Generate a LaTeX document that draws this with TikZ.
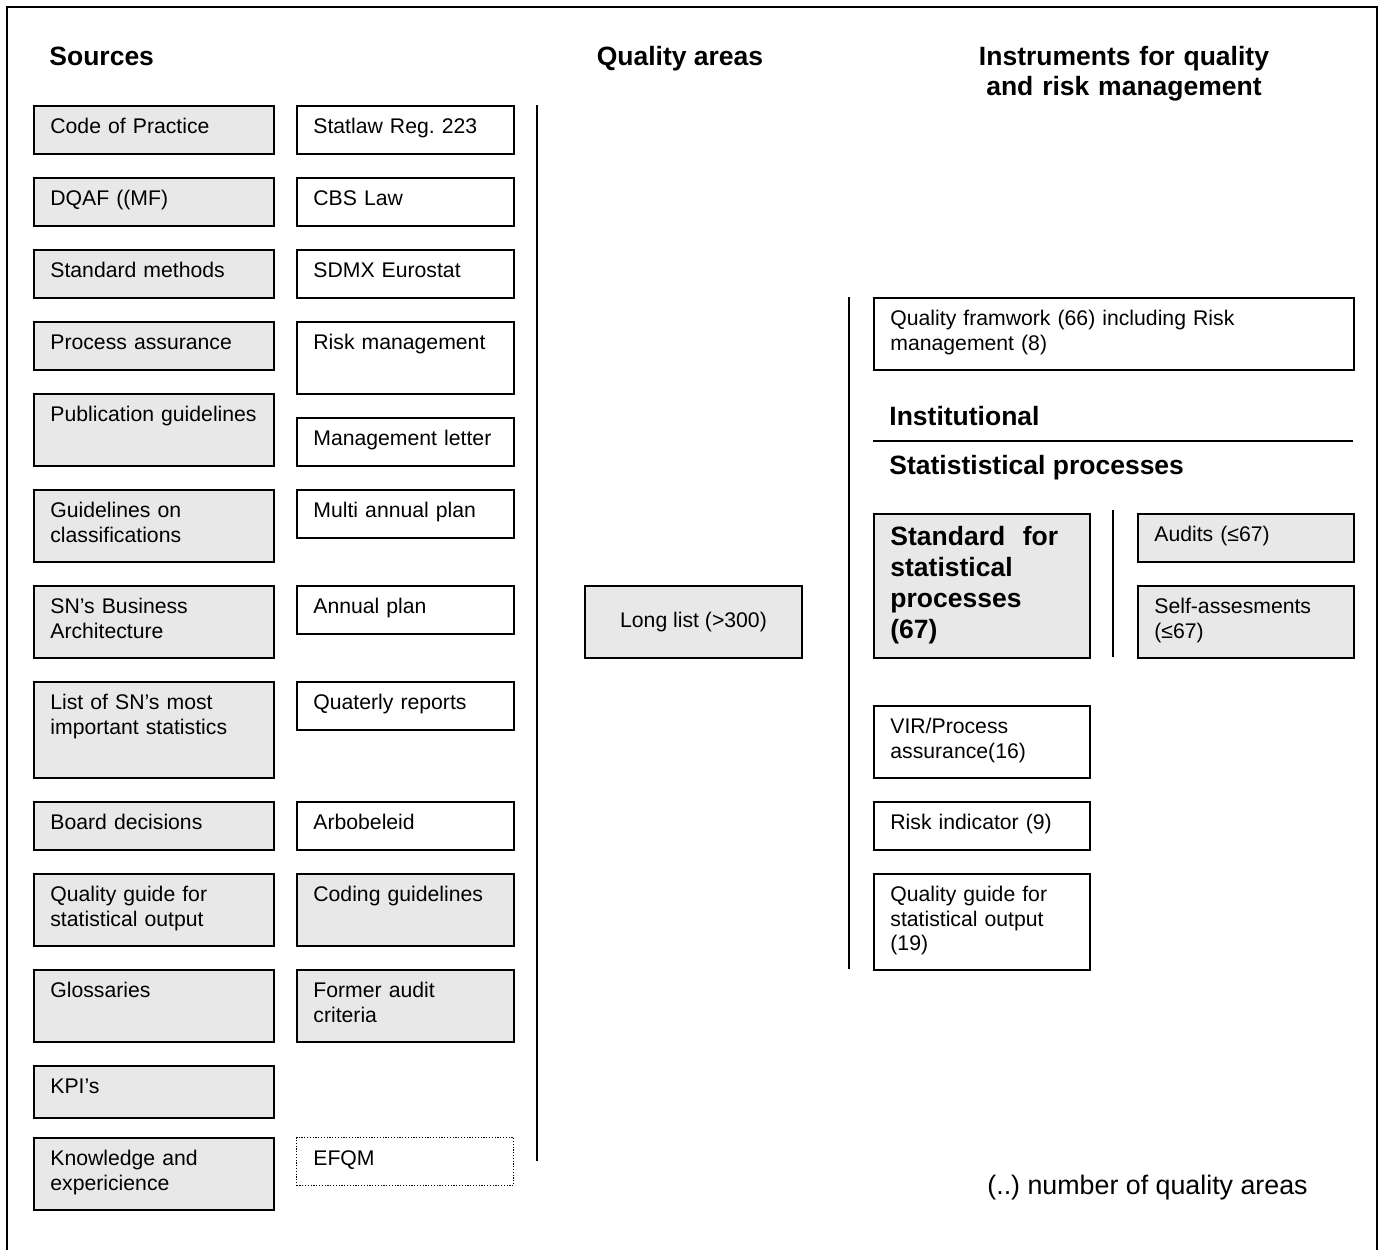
\documentclass[tikz,border=0pt]{standalone}
\usepackage{fontspec}
\setmainfont{Liberation Sans}
\frenchspacing
\definecolor{boxgray}{RGB}{232,232,232}
\newcommand{\bodysize}{\fontsize{10.6}{12.2}\selectfont}
\newcommand{\headsize}{\fontsize{13.25}{15}\selectfont\bfseries}
\newcommand{\stdsize}{\fontsize{13.25}{15.5}\selectfont\bfseries}

\begin{document}
\begin{tikzpicture}[x=0.5pt, y=-0.5pt,
    box/.style={draw, line width=1pt, anchor=north west, inner sep=0pt, minimum width=120pt, minimum height=24pt},
    gbox/.style={box, fill=boxgray},
    wbox/.style={box, fill=white},
    narrow/.style={minimum width=108.5pt},
    txt/.style={anchor=north west, inner sep=0pt, xshift=8.5pt, yshift=-6.5pt, text width=200pt, text height=7.6pt, align=left, font=\bodysize},
    head/.style={inner sep=0pt, align=center, text height=9.5pt, text depth=0pt, font=\headsize},
    sep/.style={line width=1pt}]

    \clip (0,0) rectangle (1383,1249);
    \draw[line width=1pt] (7,7) rectangle (1377,1275);

    % headings
    \node[head, anchor=west] (src) at (49,56) {Sources};
    \node[head] (qa) at (680,56) {Quality areas};
    \node[head, text width=180pt] (instr) at (1124,56) {Instruments for quality\\and risk management};

    % sources, first column
    \node[gbox] (cop) at (33,105) [label={[txt]north west:Code of Practice}] {};
    \node[gbox] (dqaf) at (33,177) [label={[txt]north west:DQAF ((MF)}] {};
    \node[gbox] (stdm) at (33,249) [label={[txt]north west:Standard methods}] {};
    \node[gbox] (proc) at (33,321) [label={[txt]north west:Process assurance}] {};
    \node[gbox, minimum height=36pt] (publ) at (33,393) [label={[txt]north west:Publication guidelines}] {};
    \node[gbox, minimum height=36pt] (clas) at (33,489) [label={[txt]north west:Guidelines on\\classifications}] {};
    \node[gbox, minimum height=36pt] (arch) at (33,585) [label={[txt]north west:SN’s Business\\Architecture}] {};
    \node[gbox, minimum height=48pt] (list) at (33,681) [label={[txt]north west:List of SN’s most\\important statistics}] {};
    \node[gbox] (board) at (33,801) [label={[txt]north west:Board decisions}] {};
    \node[gbox, minimum height=36pt] (qguide) at (33,873) [label={[txt]north west:Quality guide for\\statistical output}] {};
    \node[gbox, minimum height=36pt] (gloss) at (33,969) [label={[txt]north west:Glossaries}] {};
    \node[gbox, minimum height=26pt] (kpi) at (33,1065) [label={[txt]north west:KPI’s}] {};
    \node[gbox, minimum height=36pt] (know) at (33,1137) [label={[txt]north west:Knowledge and\\expericience}] {};

    % sources, second column
    \node[wbox, narrow] (statlaw) at (296,105) [label={[txt]north west:Statlaw Reg. 223}] {};
    \node[wbox, narrow] (cbs) at (296,177) [label={[txt]north west:CBS Law}] {};
    \node[wbox, narrow] (sdmx) at (296,249) [label={[txt]north west:SDMX Eurostat}] {};
    \node[wbox, narrow, minimum height=36pt] (risk) at (296,321) [label={[txt]north west:Risk management}] {};
    \node[wbox, narrow] (mletter) at (296,417) [label={[txt]north west:Management letter}] {};
    \node[wbox, narrow] (multi) at (296,489) [label={[txt]north west:Multi annual plan}] {};
    \node[wbox, narrow] (annual) at (296,585) [label={[txt]north west:Annual plan}] {};
    \node[wbox, narrow] (quarter) at (296,681) [label={[txt]north west:Quaterly reports}] {};
    \node[wbox, narrow] (arbo) at (296,801) [label={[txt]north west:Arbobeleid}] {};
    \node[gbox, narrow, minimum height=36pt] (coding) at (296,873) [label={[txt]north west:Coding guidelines}] {};
    \node[gbox, narrow, minimum height=36pt] (former) at (296,969) [label={[txt]north west:Former audit\\criteria}] {};
    \node[wbox, narrow, line width=0.6pt, dash pattern=on 0.6pt off 0.8pt] (efqm) at (296,1137) [label={[txt]north west:EFQM}] {};

    \draw[sep] (537,105) -- (537,1161);

    % quality areas
    \node[gbox, narrow, minimum height=36pt, font=\bodysize] (long) at (584,585) {Long list (>300)};

    \draw[sep] (849,297) -- (849,969);

    % instruments
    \node[wbox, minimum width=240pt, minimum height=36pt] (qfw) at (873,297) [label={[txt]north west:Quality framwork (66) including Risk\\management (8)}] {};
    \node[head, anchor=west] (inst) at (889,416) {Institutional};
    \draw[sep] (873,441) -- (1353,441);
    \node[head, anchor=west] (statproc) at (889,465) {Statististical processes};

    \node[gbox, minimum width=108pt, minimum height=72pt] (std) at (873,513)
        [label={[txt, font=\stdsize, text height=9.5pt]north west:Standard\ \ for\\statistical\\processes\\(67)}] {};
    \draw[sep] (1113,510) -- (1113,657);
    \node[gbox, minimum width=108pt] (audits) at (1137,513) [label={[txt]north west:Audits (≤67)}] {};
    \node[gbox, minimum width=108pt, minimum height=36pt] (self) at (1137,585) [label={[txt]north west:Self-assesments\\(≤67)}] {};

    \node[wbox, minimum width=108pt, minimum height=36pt] (vir) at (873,705) [label={[txt]north west:VIR/Process\\assurance(16)}] {};
    \node[wbox, minimum width=108pt] (rind) at (873,801) [label={[txt]north west:Risk indicator (9)}] {};
    \node[wbox, minimum width=108pt, minimum height=48pt] (qg19) at (873,873) [label={[txt]north west:Quality guide for\\statistical output\\(19)}] {};

    \node[anchor=west, inner sep=0pt, text height=9.6pt, text depth=0pt, font=\fontsize{13.4}{15}\selectfont] (note) at (987,1185) {(..) number of quality areas};
\end{tikzpicture}
\end{document}
